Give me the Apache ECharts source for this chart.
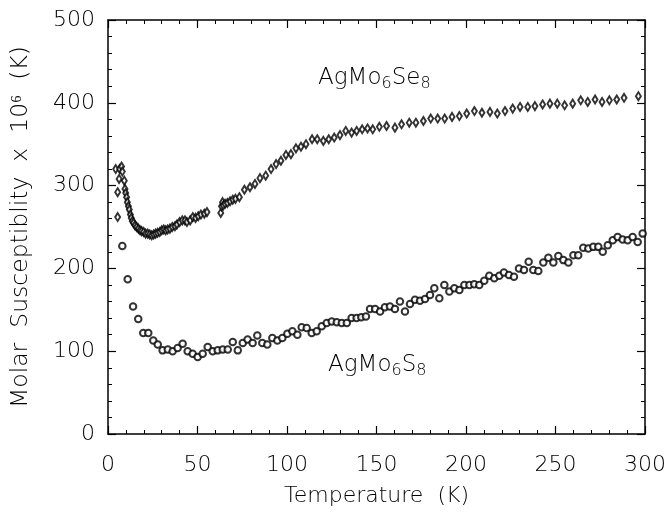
<!DOCTYPE html>
<html>
<head>
<meta charset="utf-8">
<script src="https://cdn.jsdelivr.net/npm/echarts@6/dist/echarts.min.js"></script>
<style>
  html, body { margin: 0; padding: 0; background: #fff; }
  #chart { width: 672px; height: 515px; }
</style>
</head>
<body>
<div id="chart"></div>
<script>
// AgMo6Se8 (diamonds)
var seTemp = [4.3, 5.4, 5.4, 6.2, 6.5, 7.6, 8.0, 9.1, 9.5, 9.9, 10.4, 10.8, 11.4, 11.9, 12.5, 13.0, 13.6, 14.3,
  15.1, 16.0, 17.0, 17.9, 18.8, 19.9, 21.0, 22.2, 23.3, 24.4, 25.5, 26.6, 27.7, 28.9, 30.0, 31.1, 32.2, 33.3,
  34.6, 35.9, 37.4, 38.5, 40.0, 41.5, 43.0, 44.1, 45.9, 47.4, 48.9, 50.4, 51.9, 53.8, 55.3,
  63.0, 63.4, 64.0, 64.4, 65.4, 66.7, 68.2, 69.7, 71.2, 73.4, 76.2, 79.3, 82.1, 84.9, 88.1, 91.1, 93.9,
  96.6, 99.4, 102.2, 105.0, 107.8, 110.6, 114.0, 116.9, 120.3, 123.3, 126.4, 129.6, 132.8, 136.1, 138.9,
  142.0, 145.0, 147.9, 151.6, 155.6, 160.3, 164.0, 168.3, 172.0, 176.2, 180.3, 184.2, 188.1, 192.2, 196.3,
  200.4, 204.7, 208.9, 213.4, 217.5, 221.8, 226.1, 230.2, 234.5, 238.5, 242.8, 246.9, 251.0, 255.1, 259.6,
  264.1, 268.0, 272.1, 276.0, 280.1, 284.2, 288.3, 296.3];
var seChi = [320, 292, 262, 308, 320, 323, 317, 306, 296, 291, 286, 280, 275, 271, 265, 261, 257, 255,
  252, 250, 248, 246, 245, 244, 242, 242, 241, 240, 241, 242, 243, 244, 246, 247, 246, 247,
  248, 250, 251, 253, 256, 258, 258, 256, 258, 262, 261, 263, 265, 266, 268,
  267, 275, 280, 276, 278, 279, 281, 283, 284, 286, 295, 298, 302, 309, 312, 320, 326,
  330, 337, 338, 345, 347, 350, 356, 356, 354, 356, 358, 361, 366, 364, 366,
  368, 369, 368, 371, 372, 370, 374, 376, 376, 378, 381, 381, 381, 383, 384,
  387, 390, 388, 389, 387, 390, 393, 395, 395, 396, 398, 399, 399, 397, 399,
  403, 401, 404, 401, 403, 404, 406, 408];

// AgMo6S8 (circles)
var sTemp = [8.0, 11.0, 14.0, 16.9, 19.7, 22.5, 25.3, 27.8, 30.5, 33.4, 36.1, 38.9, 41.7, 44.5, 47.3, 50.1,
  52.9, 55.7, 58.5, 61.3, 64.1, 66.9, 69.7, 72.5, 75.3, 78.0, 80.8, 83.4, 86.2, 89.0, 91.8, 94.6, 97.4,
  100.2, 103.0, 105.8, 108.2, 111.0, 113.8, 116.6, 119.4, 122.2, 125.0, 127.8, 130.6, 133.4, 136.1, 138.9,
  141.5, 144.1, 146.4, 149.2, 152.0, 154.7, 157.5, 160.3, 163.1, 165.9, 168.7, 171.5, 174.3, 177.1, 179.9,
  182.3, 185.1, 187.9, 190.7, 193.5, 196.3, 199.1, 201.9, 204.6, 207.4, 210.2, 213.0, 215.8, 218.6, 221.2,
  224.0, 226.8, 229.6, 232.4, 235.0, 237.6, 240.4, 243.2, 246.0, 248.8, 251.6, 254.4, 257.2, 260.0, 262.7,
  265.5, 268.3, 271.1, 273.9, 276.4, 279.2, 282.0, 284.7, 287.5, 290.3, 293.1, 295.9, 298.7];
var sChi = [227, 187, 154, 139, 122, 122, 113, 108, 101, 102, 100, 104, 109, 100, 97, 93,
  97, 105, 100, 101, 102, 102, 111, 101, 110, 114, 110, 119, 110, 108, 116, 113, 116,
  121, 124, 120, 129, 128, 122, 124, 130, 134, 136, 135, 134, 134, 140, 140,
  141, 142, 151, 151, 148, 153, 154, 151, 160, 148, 157, 162, 161, 163, 168,
  176, 164, 180, 172, 176, 174, 180, 180, 181, 180, 185, 191, 188, 191, 195,
  192, 190, 200, 198, 208, 198, 197, 207, 213, 207, 215, 210, 207, 216, 216,
  225, 224, 226, 226, 220, 228, 234, 238, 235, 234, 238, 232, 242];

var xTicks = [0, 50, 100, 150, 200, 250, 300];
var yTicks = [0, 100, 200, 300, 400, 500];

var FONT = 'DejaVu Sans';
var INK = '#000';

function zip(a, b) {
  return a.map(function (v, i) { return [v, b[i]]; });
}

var chart = echarts.init(document.getElementById('chart'));

// every axis gets its own copy so nothing is shared between them
function frameAxis() {
  return {
    show: true,
    axisLine: { show: true, onZero: false, lineStyle: { color: INK, width: 1.5 } },
    axisTick: { show: true, inside: true, length: 8, lineStyle: { color: INK, width: 1.2 } },
    minorTick: { show: true, splitNumber: 5, length: 4, lineStyle: { color: INK, width: 1 } },
    splitLine: { show: false }
  };
}

var labelFont = { color: INK, fontFamily: FONT, fontSize: 22, fontWeight: 200 };

// bottom / left carry the labels, top / right only close the frame
var xBottom = Object.assign(frameAxis(), {
  type: 'value', min: xTicks[0], max: xTicks[xTicks.length - 1], interval: 50,
  axisLabel: Object.assign({ margin: 20 }, labelFont),
  name: 'Temperature  (K)', nameLocation: 'middle', nameGap: 51,
  nameTextStyle: labelFont
});
var xTop = Object.assign(frameAxis(), {
  type: 'value', position: 'top', min: xTicks[0], max: xTicks[xTicks.length - 1], interval: 50,
  axisLabel: { show: false }
});
var yLeft = Object.assign(frameAxis(), {
  type: 'value', min: yTicks[0], max: yTicks[yTicks.length - 1], interval: 100,
  axisLabel: Object.assign({ margin: 13 }, labelFont),
  name: 'Molar  Susceptiblity  x  10\u2076  (K)', nameLocation: 'middle', nameGap: 75,
  nameTextStyle: { color: INK, fontFamily: FONT, fontSize: 23.5, fontWeight: 200 }
});
var yRight = Object.assign(frameAxis(), {
  type: 'value', position: 'right', min: yTicks[0], max: yTicks[yTicks.length - 1], interval: 100,
  axisLabel: { show: false }
});

var labelRich = {
  b: { fontFamily: FONT, fontSize: 23, fontWeight: 200, color: INK, lineHeight: 26, verticalAlign: 'middle' },
  s: { fontFamily: FONT, fontSize: 16, fontWeight: 200, color: INK, lineHeight: 14, verticalAlign: 'bottom' }
};

var option = {
  animation: false,
  grid: { left: 108, right: 27, top: 20, bottom: 81, containLabel: false },
  xAxis: [xBottom, xTop],
  yAxis: [yLeft, yRight],
  series: [
    {
      name: 'AgMo6Se8',
      type: 'scatter',
      data: zip(seTemp, seChi),
      symbol: 'emptyDiamond',
      symbolSize: [5, 8],
      itemStyle: { color: INK, borderColor: INK, borderWidth: 1.2 }
    },
    {
      name: 'AgMo6S8',
      type: 'scatter',
      data: zip(sTemp, sChi),
      symbol: 'emptyCircle',
      symbolSize: 6.5,
      itemStyle: { color: INK, borderColor: INK, borderWidth: 1.3 }
    }
  ],
  graphic: [
    {
      type: 'text', left: 318, top: 67,
      style: { text: '{b|AgMo}{s|6}{b|Se}{s|8}', rich: labelRich }
    },
    {
      type: 'text', left: 328, top: 354,
      style: { text: '{b|AgMo}{s|6}{b|S}{s|8}', rich: labelRich }
    }
  ]
};

chart.setOption(option);
</script>
</body>
</html>
